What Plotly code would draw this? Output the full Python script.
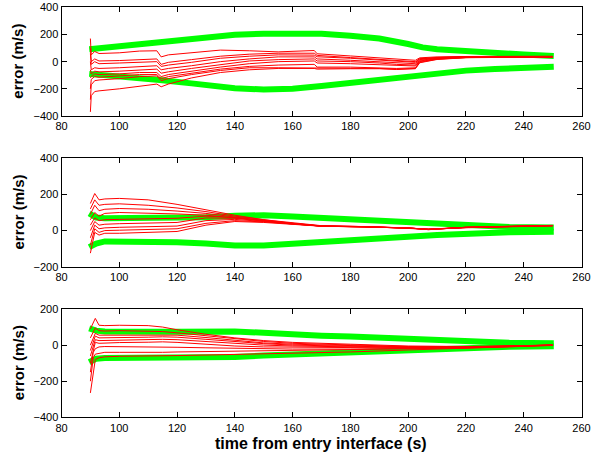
import plotly.graph_objects as go

# ---- datos ----
# panel superior
t_env_1 = [89.6, 100, 114, 125, 140, 150, 160, 170, 180, 190, 200, 205, 210, 220, 230, 240, 250.4]
env_sup_1 = [91, 113, 143, 167, 198, 205, 208, 205, 190, 170, 130, 105, 92, 75, 62, 52, 42]
env_inf_1 = [-90, -105, -135, -160, -195, -205, -200, -180, -158, -138, -115, -98, -85, -66, -55, -45, -37]

t_err_1 = [90, 90.3, 91.5, 93, 100, 107, 113, 114.5, 117, 125, 135, 145, 155, 167.5, 168.5,
           180, 190, 196, 202.5, 204, 210, 220, 235, 250]
err_1 = [
    [170, 50, 75, 60, 65, 78, 80, 35, 50, 65, 85, 80, 72, 82, 58, 42, 28, 18, 10, 28, 35, 38, 40, 40],
    [100, 0, 20, 5, 8, 15, 20, -20, -5, 15, 40, 55, 62, 62, 46, 30, 15, 5, 0, 22, 30, 36, 38, 38],
    [60, -20, 0, -15, -10, -2, 0, -35, -25, -5, 25, 40, 50, 48, 36, 25, 12, 0, -5, 20, 30, 35, 38, 37],
    [0, -60, -45, -50, -45, -35, -30, -60, -50, -30, 0, 20, 35, 35, 20, 10, 0, -10, -15, 15, 28, 35, 37, 36],
    [-60, -90, -70, -75, -70, -60, -55, -85, -75, -50, -20, 5, 15, 20, 5, 0, -10, -20, -25, 10, 25, 33, 36, 35],
    [-120, -110, -90, -95, -90, -80, -80, -110, -95, -70, -40, -15, 0, 5, -10, -15, -25, -30, -32, 5, 22, 32, 35, 35],
    [-200, -130, -110, -115, -105, -95, -95, -125, -110, -85, -55, -35, -25, -20, -40, -40, -45, -50, -45, 0, 20, 30, 35, 34],
    [-280, -170, -140, -135, -125, -110, -105, -140, -125, -95, -65, -45, -45, -45, -50, -50, -50, -55, -50, -5, 18, 30, 34, 34],
    [-370, -250, -220, -215, -200, -180, -165, -185, -165, -120, -80, -60, -50, -50, -55, -52, -52, -58, -52, -8, 16, 29, 33, 34],
]

# panel central
t_env_2 = [89.6, 92, 95, 100, 110, 120, 130, 140, 150, 160, 170, 180, 190, 200, 210, 220, 235, 250.4]
env_sup_2 = [95, 72, 68, 68, 68, 68, 74, 82, 85, 78, 70, 62, 52, 44, 34, 26, 20, 17]
env_inf_2 = [-92, -72, -60, -60, -63, -64, -72, -82, -82, -74, -63, -52, -42, -34, -25, -16, -10, -6]

t_err_2 = [90, 91.5, 93, 95, 100, 110, 120, 130, 140, 150, 160, 170, 185, 200, 207, 220, 235, 250]
err_2 = [
    [150, 205, 170, 175, 178, 170, 145, 115, 85, 60, 42, 27, 22, 15, 8, 18, 22, 28],
    [120, 170, 140, 145, 148, 140, 125, 105, 80, 58, 40, 26, 22, 14, 7, 17, 23, 27],
    [90, 140, 110, 118, 122, 118, 108, 95, 75, 55, 38, 25, 21, 15, 6, 18, 22, 29],
    [60, 100, 80, 95, 100, 98, 92, 85, 70, 52, 36, 25, 22, 13, 8, 16, 21, 28],
    [30, 70, 55, 60, 62, 63, 68, 80, 72, 55, 38, 24, 20, 15, 5, 18, 24, 26],
    [0, 50, 30, 35, 38, 40, 45, 70, 68, 52, 36, 25, 22, 14, 8, 17, 22, 28],
    [-40, 30, 10, 15, 18, 20, 25, 55, 62, 50, 35, 24, 21, 15, 6, 18, 23, 27],
    [-80, 10, -10, 0, 2, 5, 10, 40, 55, 48, 35, 25, 22, 13, 7, 16, 22, 28],
    [-125, -10, -25, -15, -15, -12, -5, 30, 50, 45, 33, 24, 20, 15, 5, 18, 21, 26],
]

# panel inferior
t_env_3 = [89.6, 92, 95, 100, 120, 140, 150, 160, 170, 180, 190, 200, 210, 220, 235, 250.4]
env_sup_3 = [93, 80, 76, 75, 74, 76, 66, 58, 52, 47, 40, 32, 25, 19, 13, 10]
env_inf_3 = [-95, -75, -72, -72, -68, -66, -58, -52, -44, -36, -29, -23, -17, -12, -9, -7]

t_err_3 = [90, 91, 91.7, 93, 95, 100, 110, 115, 120, 130, 140, 150, 160, 180, 200, 220, 235, 250]
err_3 = [
    [90, 120, 148, 110, 108, 110, 108, 100, 85, 60, 40, 25, 15, 5, -5, -8, -5, 0],
    [40, 70, 95, 80, 78, 80, 78, 75, 68, 52, 35, 20, 10, 2, -8, -10, -6, 0],
    [0, 40, 65, 55, 55, 55, 57, 58, 55, 42, 25, 12, 5, -2, -10, -10, -6, 0],
    [-30, 20, 50, 40, 40, 42, 44, 46, 44, 32, 18, 8, 0, -5, -12, -12, -7, 0],
    [-60, 0, 30, 25, 26, 28, 30, 32, 30, 20, 8, 0, -5, -8, -14, -12, -7, 0],
    [-100, -20, 15, 10, 12, 14, 16, 18, 15, 5, -5, -10, -12, -15, -16, -14, -8, 0],
    [-150, -40, -20, -10, -8, -8, -10, -10, -12, -15, -18, -20, -22, -22, -20, -15, -8, 0],
    [-200, -70, -50, -45, -40, -40, -42, -40, -38, -36, -34, -32, -30, -28, -22, -16, -9, -1],
    [-265, -150, -80, -70, -65, -62, -62, -60, -58, -55, -52, -48, -44, -38, -27, -18, -10, -2],
]

y_rangos = [[-400, 400], [-200, 400], [-400, 200]]
x_ticks = [80, 100, 120, 140, 160, 180, 200, 220, 240, 260]

paneles = [
    (t_env_1, env_sup_1, env_inf_1, t_err_1, err_1),
    (t_env_2, env_sup_2, env_inf_2, t_err_2, err_2),
    (t_env_3, env_sup_3, env_inf_3, t_err_3, err_3),
]

W, H = 591, 458
# cajas de ejes en pixeles (arriba, abajo)
cajas_y = [(7.3, 116.0), (158.3, 266.7), (309.0, 417.3)]
x_izq, x_der = 61.5, 581.5


def px_x(p):
    return p / W


def px_y(p):
    return 1 - p / H


fig = go.Figure()
for i, (te, sup, inf, tr, errs) in enumerate(paneles):
    n = "" if i == 0 else str(i + 1)
    for env in (sup, inf):
        fig.add_trace(go.Scatter(x=te, y=env, mode="lines", xaxis="x" + n, yaxis="y" + n,
                                 line=dict(color="#00ff00", width=6), hoverinfo="skip"))
    for e in errs:
        fig.add_trace(go.Scatter(x=tr, y=e, mode="lines", xaxis="x" + n, yaxis="y" + n,
                                 line=dict(color="#ff0000", width=1), hoverinfo="skip"))

fuente = dict(family="Liberation Sans, Arial, sans-serif", size=11, color="black")
ejes = dict(showline=True, linecolor="black", linewidth=1, mirror="ticks", ticks="inside",
            ticklen=5, tickwidth=1, tickcolor="black", showgrid=False, zeroline=False,
            tickfont=fuente, automargin=False)

layout = dict(width=W, height=H, margin=dict(l=0, r=0, t=0, b=0, autoexpand=False),
              showlegend=False, paper_bgcolor="white", plot_bgcolor="white", annotations=[])
for i, (arriba, abajo) in enumerate(cajas_y):
    n = "" if i == 0 else str(i + 1)
    layout["xaxis" + n] = dict(ejes, domain=[px_x(x_izq), px_x(x_der)], range=[80, 260],
                               tickvals=x_ticks, anchor="y" + n)
    layout["yaxis" + n] = dict(ejes, domain=[px_y(abajo), px_y(arriba)], range=y_rangos[i],
                               dtick=200, anchor="x" + n)
    layout["annotations"].append(dict(
        text="<b>error (m/s)</b>", textangle=-90, xref="paper", yref="paper",
        x=px_x(18), y=px_y((arriba + abajo) / 2), xanchor="center", yanchor="middle",
        showarrow=False,
        font=dict(family="Liberation Sans, Arial, sans-serif", size=15, color="black")))

layout["annotations"].append(dict(
    text="<b>time from entry interface (s)</b>", xref="paper", yref="paper",
    x=px_x(321), y=px_y(443), xanchor="center", yanchor="middle", showarrow=False,
    font=dict(family="Liberation Sans, Arial, sans-serif", size=16, color="black")))

fig.update_layout(layout)
# sin margen del body para que la figura ocupe la ventana entera
fig.write_html("out.html", config={"displayModeBar": False},
               post_script="document.body.style.margin='0';document.body.style.overflow='hidden';")
